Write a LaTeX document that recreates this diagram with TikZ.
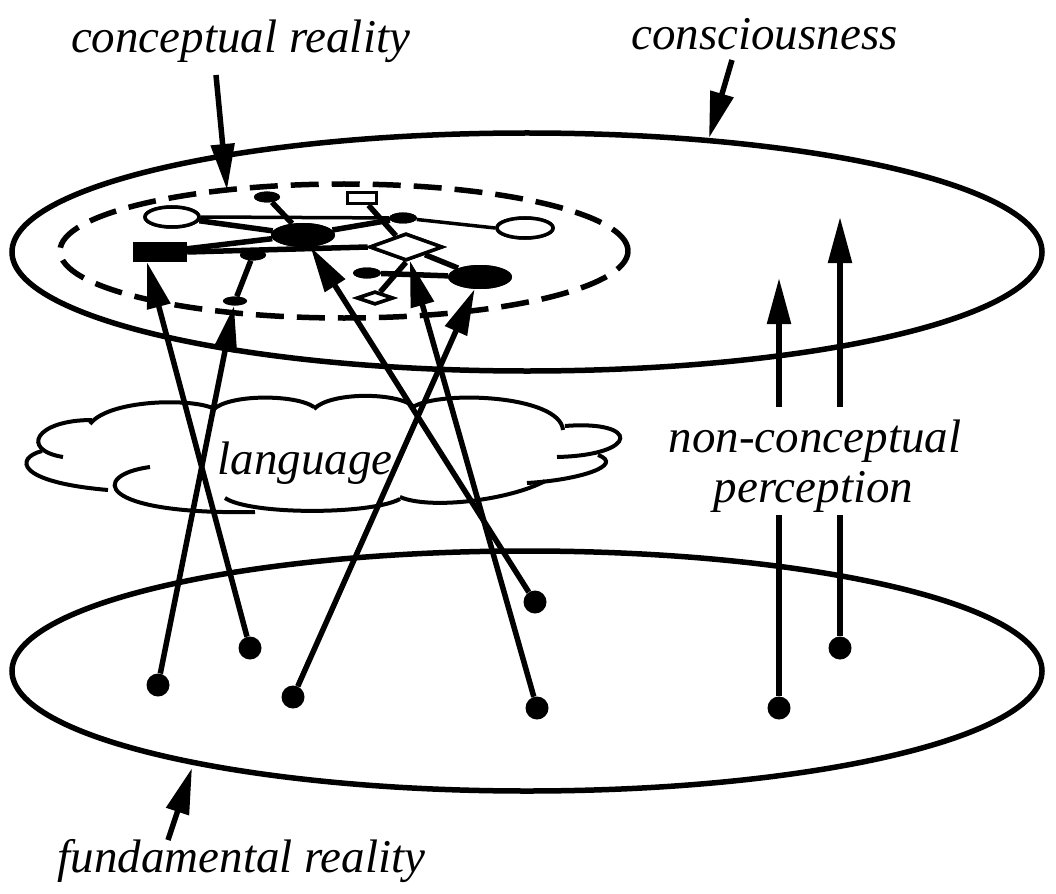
\documentclass[tikz,border=0pt]{standalone}
\usepackage{fontspec}
\setmainfont{Liberation Serif}
\usetikzlibrary{arrows.meta,shapes.geometric,calc}
\begin{document}
\begin{tikzpicture}[x=1pt,y=-1pt,
  lbl/.style={font=\fontsize{47}{56}\selectfont\itshape, inner sep=0pt, anchor=base},
  arr/.style={line width=5.5pt,-{Triangle[length=46pt,width=23pt]}},
  shaft/.style={line width=5.5pt},
  layer/.style={draw, ellipse, line width=5.5pt, inner sep=0pt},
  cloudline/.style={line width=4pt},
  dot/.style={circle, fill=black, inner sep=0pt, minimum size=23pt},
  sfill/.style={ellipse, fill=black, inner sep=0pt, minimum width=26pt, minimum height=11pt},
  bfill/.style={ellipse, fill=black, inner sep=0pt, minimum width=64pt, minimum height=24pt},
  wring/.style={ellipse, draw, fill=white, line width=3.5pt, inner sep=0pt, minimum width=54pt, minimum height=20pt},
  wdiam/.style={diamond, draw, fill=white, line width=3.5pt, inner sep=0pt},
  wrect/.style={draw, fill=white, line width=3.5pt, inner sep=0pt, minimum width=29pt, minimum height=11pt},
  frect/.style={fill=black, inner sep=0pt, minimum width=54pt, minimum height=20pt},
  edge/.style={line width=5.5pt},
  thinedge/.style={line width=3.5pt}
]
\useasboundingbox (0,0) rectangle (1056,893);

% cloud
\draw[cloudline] (63,457) .. controls (20,450) and (35,420) .. (92,420);
\draw[cloudline] (42,451) .. controls (15,458) and (15,482) .. (108,490);
\draw[cloudline] (150,467) .. controls (90,475) and (95,515) .. (255,512);
\draw[cloudline] (225,498) .. controls (250,515) and (370,515) .. (400,499);
\draw[cloudline] (400,497) .. controls (430,510) and (510,500) .. (545,481);
\draw[cloudline] (527,483) .. controls (580,480) and (625,465) .. (598,455);
\draw[cloudline] (557,457) .. controls (640,455) and (640,420) .. (565,426);
\draw[cloudline] (563,430) .. controls (560,395) and (440,390) .. (413,407);
\draw[cloudline] (413,406) .. controls (395,392) and (330,392) .. (314,409);
\draw[cloudline] (314,407) .. controls (295,394) and (228,394) .. (213,410);
\draw[cloudline] (216,410) .. controls (200,398) and (110,398) .. (90,424);

% layers
\node[layer, minimum width=1030pt, minimum height=238pt] (cons) at (527,252) {};
\node[layer, minimum width=1030pt, minimum height=240pt] (fund) at (527,671) {};
\node[ellipse, draw, line width=5.5pt, dash pattern=on 28pt off 13pt, inner sep=0pt,
      minimum width=568pt, minimum height=134pt] (concr) at (344,251) {};

% network nodes (positions)
\node[sfill] (s1) at (267,197) {};
\node[wrect] (r0) at (362,198) {};
\node[wring] (w1) at (172,217) {};
\node[bfill] (b1) at (303,235) {};
\node[sfill, minimum width=28pt] (s2) at (403,218) {};
\node[wring, minimum width=56pt] (w2) at (525,228) {};
\node[frect] (fr) at (160,252) {};
\node[wdiam, minimum width=73pt, minimum height=27pt] (dm) at (406,247) {};
\node[sfill] (s3) at (253,255) {};
\node[sfill, minimum width=24pt, minimum height=9pt] (s4) at (235,301) {};
\node[sfill, minimum width=28pt] (s5) at (367,273) {};
\node[bfill] (b2) at (480,277) {};
\node[wdiam, minimum width=36pt, minimum height=13pt] (sd) at (375,298) {};

% network edges
\draw[edge] (s1) -- (b1);
\draw[edge] (w1) -- (b1);
\draw[thinedge] (w1.east) -- (s2);
\draw[edge] (b1) -- (s2);
\draw[thinedge] (s2) -- (w2.west);
\draw[edge] (r0) -- (dm);
\draw[edge] (fr) -- (b1);
\draw[edge] (fr.east) -- (dm.west);
\draw[edge] (s3) -- (s4);
\draw[edge] (dm) -- (b2);
\draw[edge] (s5) -- (b2);
\draw[edge] (dm.south) -- (sd);

% nodes again on top of the edges
\node[sfill] at (s1) {};
\node[wrect] at (r0) {};
\node[wring] at (w1) {};
\node[bfill] at (b1) {};
\node[sfill, minimum width=28pt] at (s2) {};
\node[wring, minimum width=56pt] at (w2) {};
\node[frect] at (fr) {};
\node[wdiam, minimum width=73pt, minimum height=27pt] at (dm) {};
\node[sfill] at (s3) {};
\node[sfill, minimum width=24pt, minimum height=9pt] at (s4) {};
\node[sfill, minimum width=28pt] at (s5) {};
\node[bfill] at (b2) {};
\node[wdiam, minimum width=36pt, minimum height=13pt] at (sd) {};

% dots on fundamental reality
\node[dot] (d1) at (158,685) {};
\node[dot] (d2) at (250,648) {};
\node[dot] (d3) at (293,697) {};
\node[dot] (d4) at (535,602) {};
\node[dot] (d5) at (537,708) {};
\node[dot] (d6) at (779,708) {};
\node[dot] (d7) at (840,648) {};

% language arrows
\draw[arr] (d1) -- (s4);
\draw[arr] (d2) -- ($(fr.south)+(-13,0)$);
\draw[arr] (d3) -- (b2);
\draw[arr] (d4) -- (b1);
\draw[arr] (d5) -- (dm);

% non-conceptual perception arrows
\coordinate (v1lo) at (779,515);
\coordinate (v1hi) at (779,407);
\coordinate (v1tip) at (779,278);
\coordinate (v2lo) at (840,515);
\coordinate (v2hi) at (840,407);
\coordinate (v2tip) at (840,217);
\draw[shaft] (d6) -- (v1lo);
\draw[arr] (v1hi) -- (v1tip);
\draw[shaft] (d7) -- (v2lo);
\draw[arr] (v2hi) -- (v2tip);

% labels
\node[lbl] (tcr) at (240.5,53) {conceptual reality};
\node[lbl] (tco) at (764.5,50) {consciousness};
\node[lbl] (tla) at (305,474) {language};
\node[lbl] (tnc) at (815,452) {non-conceptual};
\node[lbl] (tpe) at (813.5,502) {perception};
\node[lbl] (tfr) at (241.5,872) {fundamental reality};

% label pointers
\coordinate (pcr0) at (216,75);
\coordinate (pcr1) at (227,190);
\coordinate (pco0) at (732,60);
\coordinate (pco1) at (709,138);
\coordinate (pfr0) at (168,840);
\coordinate (pfr1) at (192,768);
\draw[arr] (pcr0) -- (pcr1);
\draw[arr] (pco0) -- (pco1);
\draw[arr] (pfr0) -- (pfr1);
\end{tikzpicture}
\end{document}
